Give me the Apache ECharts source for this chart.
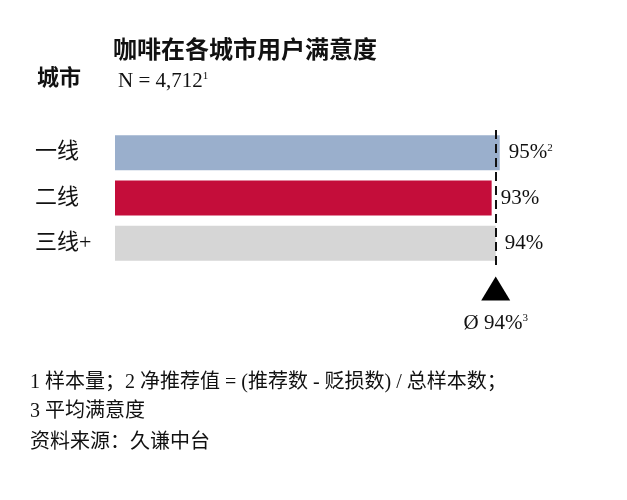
<!DOCTYPE html>
<html><head><meta charset="utf-8">
<script src="https://cdn.jsdelivr.net/npm/echarts@6/dist/echarts.min.js"></script>
<style>html,body{margin:0;padding:0;background:#fff}#c{width:627px;height:500px}</style>
</head><body><div id="c"></div>
<script>
const categories = ['一线', '二线', '三线+'];
const values = [95, 93, 94];
const labelNotes = ['2', '', ''];
const averageValue = 94;
const barColors = ['#9aafcc', '#c40d3a', '#d6d6d6'];
const titleText = '咖啡在各城市用户满意度';
const sampleText = 'N = 4,712';
const footnotes = ['1 样本量；2 净推荐值 = (推荐数 - 贬损数) / 总样本数；', '3 平均满意度', '资料来源：久谦中台'];

const serif = '"Liberation Serif", "Noto Sans CJK SC", serif';
const cjk = '"Liberation Serif", "Noto Sans CJK SC", serif';
const supStyle = {fontFamily: serif, fontSize: 11, color: '#111', verticalAlign: 'top', padding: [0,0,10,0]};

const chart = echarts.init(document.getElementById('c'), null, {renderer: 'canvas'});
const option = {
  backgroundColor: '#fff',
  animation: false,
  title: [
    {text: titleText, left: 113, top: 40, padding: 0, textStyle: {fontFamily: cjk, fontSize: 24, fontWeight: 'bold', color: '#111'}},
    {text: '城市', left: 37, top: 68, padding: 0, textStyle: {fontFamily: cjk, fontSize: 22, fontWeight: 'bold', color: '#111'}},
    {text: '{a|' + sampleText + '}{s|1}', left: 118, top: 71, padding: 0, textStyle: {fontWeight: 'normal', rich: {a: {fontFamily: serif, fontSize: 21, fontWeight: 'normal', color: '#111'}, s: supStyle}}},
    {text: footnotes[0], left: 30, top: 373, padding: 0, textStyle: {fontFamily: cjk, fontSize: 20, fontWeight: 'normal', color: '#111'}},
    {text: footnotes[1], left: 30, top: 402, padding: 0, textStyle: {fontFamily: cjk, fontSize: 20, fontWeight: 'normal', color: '#111'}},
    {text: footnotes[2], left: 30, top: 433, padding: 0, textStyle: {fontFamily: cjk, fontSize: 20, fontWeight: 'normal', color: '#111'}}
  ],
  grid: [
    {left: 115, right: 107, top: 130, height: 136},
    {left: 115, right: 107, top: 277, height: 23}
  ],
  xAxis: [
    {type: 'value', gridIndex: 0, min: 0, max: 100, show: false},
    {type: 'value', gridIndex: 1, min: 0, max: 100, show: false}
  ],
  yAxis: [
    {type: 'category', gridIndex: 0, data: categories, inverse: true,
     axisLine: {show: false}, axisTick: {show: false}, splitLine: {show: false},
     axisLabel: {align: 'left', margin: 80, fontFamily: cjk, fontSize: 22, color: '#111'}},
    {type: 'value', gridIndex: 1, min: 0, max: 1, show: false}
  ],
  series: [
    {type: 'bar', xAxisIndex: 0, yAxisIndex: 0, barWidth: 35,
     data: values.map((v, i) => ({value: v, itemStyle: {color: barColors[i]}})),
     label: {show: true, position: 'right', distance: 9,
       formatter: p => '{a|' + p.value + '%}' + (labelNotes[p.dataIndex] ? '{s|' + labelNotes[p.dataIndex] + '}' : ''),
       rich: {a: {fontFamily: serif, fontSize: 21, color: '#111'}, s: supStyle}},
     markLine: {silent: true, symbol: 'none', label: {show: false},
       lineStyle: {color: '#111', type: [9, 5], width: 2},
       data: [{xAxis: averageValue}]},
     z: 2},
    {type: 'scatter', xAxisIndex: 1, yAxisIndex: 1, symbol: 'triangle', symbolSize: [29, 24],
     data: [[averageValue, 0.5]], itemStyle: {color: '#000', opacity: 1},
     label: {show: true, position: 'bottom', distance: 12, color: '#111',
       formatter: () => '{a|Ø ' + averageValue + '%}{s|3}',
       rich: {a: {fontFamily: serif, fontSize: 21, color: '#111'}, s: supStyle}}}
  ]
};
chart.setOption(option);
</script></body></html>
